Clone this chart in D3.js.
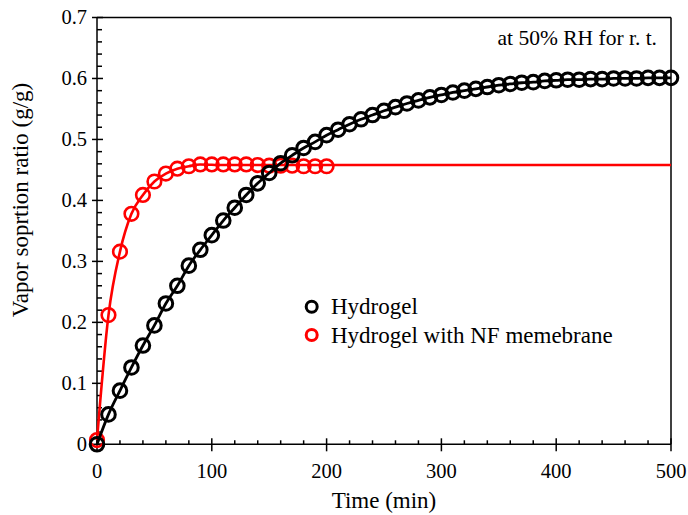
<!DOCTYPE html>
<html><head><meta charset="utf-8">
<script src="https://cdn.jsdelivr.net/npm/d3@7"></script>
<style>body{margin:0;background:#fff}svg{display:block}</style>
</head><body>
<script>
const times = d3.range(0, 501, 10);
const hydrogel = [0,0.049,0.088,0.126,0.162,0.195,0.231,0.260,0.293,0.319,0.343,0.367,0.388,0.409,0.428,0.445,0.461,0.474,0.486,0.496,0.507,0.516,0.525,0.533,0.540,0.547,0.553,0.559,0.564,0.569,0.573,0.577,0.580,0.583,0.586,0.589,0.591,0.593,0.594,0.596,0.597,0.598,0.598,0.599,0.599,0.600,0.600,0.600,0.601,0.601,0.601];
const nfTimes = d3.range(0, 201, 10);
const nfMembrane = [0.007,0.212,0.316,0.378,0.409,0.431,0.444,0.452,0.456,0.459,0.459,0.459,0.459,0.459,0.458,0.457,0.457,0.457,0.456,0.456,0.456];
const nfPlateau = 0.458;
const xTicks = [0,100,200,300,400,500];
const yTicks = [0,0.1,0.2,0.3,0.4,0.5,0.6,0.7];
const legendLabels = ["Hydrogel","Hydrogel with NF memebrane"];
const annotation = "at 50% RH for r. t.";

const FONT = "Liberation Serif";
const W = 688, H = 515;
const svg = d3.select("body").append("svg").attr("width", W).attr("height", H)
  .attr("font-family", FONT);
const x = d3.scaleLinear().domain([0,500]).range([97,671]);
const y = d3.scaleLinear().domain([0,0.7]).range([444.3,17.5]);

// frame
svg.append("line").attr("x1",x(0)).attr("x2",x(500)).attr("y1",y(0.7)).attr("y2",y(0.7)).attr("stroke","#000").attr("stroke-width",1.5);
svg.append("line").attr("x1",x(500)).attr("x2",x(500)).attr("y1",y(0)).attr("y2",y(0.7)).attr("stroke","#000").attr("stroke-width",1.5);

// x axis
const gx = svg.append("g").attr("transform",`translate(0,${y(0)})`);
gx.append("line").attr("x1",x(0)).attr("x2",x(500)).attr("stroke","#000").attr("stroke-width",1.5);
d3.range(0,501,20).forEach(t=>{
  const major = t%100===0;
  gx.append("line").attr("x1",x(t)).attr("x2",x(t)).attr("y1",major?-6:-4).attr("y2",major?7:0).attr("stroke","#000").attr("stroke-width",1.5);
});
gx.selectAll("text.tl").data(xTicks).join("text").attr("class","tl")
  .attr("font-family",FONT).attr("x",d=>x(d)).attr("y",34).attr("text-anchor","middle").attr("font-size",20.5).text(d=>d);

// y axis
const gy = svg.append("g").attr("transform",`translate(${x(0)},0)`);
gy.append("line").attr("y1",y(0)).attr("y2",y(0.7)).attr("stroke","#000").attr("stroke-width",1.5);
d3.range(0,36).forEach(i=>{
  const v = i*0.02, major = i%5===0;
  gy.append("line").attr("y1",y(v)).attr("y2",y(v)).attr("x1",major?-5:0).attr("x2",major?6:5).attr("stroke","#000").attr("stroke-width",1.5);
});
gy.selectAll("text.tl").data(yTicks).join("text").attr("class","tl")
  .attr("font-family",FONT).attr("x",-10).attr("y",d=>y(d)).attr("dy","0.34em").attr("text-anchor","end").attr("font-size",20.5).text(d=>d===0?"0":d.toFixed(1));

// titles
svg.append("text").attr("font-family",FONT).attr("x",384).attr("y",508).attr("text-anchor","middle").attr("font-size",23).text("Time (min)");
svg.append("text").attr("font-family",FONT).attr("transform","translate(28,200) rotate(-90)").attr("text-anchor","middle").attr("font-size",23).text("Vapor soprtion ratio (g/g)");
svg.append("text").attr("font-family",FONT).attr("x",657).attr("y",45).attr("text-anchor","end").attr("font-size",21.5).text(annotation);

const line = d3.line().x(d=>x(d[0])).y(d=>y(d[1])).curve(d3.curveMonotoneX);

// red series
const redPts = nfTimes.map((t,i)=>[t,nfMembrane[i]]);
const redLine = redPts.slice(0,10).concat([[110,nfPlateau],[500,nfPlateau]]);
svg.append("path").attr("d",line(redLine)).attr("fill","none").attr("stroke","#ff0000").attr("stroke-width",2.6);
svg.selectAll("circle.r").data(redPts).join("circle").attr("class","r")
  .attr("cx",d=>x(d[0])).attr("cy",d=>y(d[1])).attr("r",6.8).attr("fill","none").attr("stroke","#ff0000").attr("stroke-width",2.6);

// black series
const blackPts = times.map((t,i)=>[t,hydrogel[i]]);
svg.append("path").attr("d",line(blackPts)).attr("fill","none").attr("stroke","#000").attr("stroke-width",2.8);
svg.selectAll("circle.b").data(blackPts).join("circle").attr("class","b")
  .attr("cx",d=>x(d[0])).attr("cy",d=>y(d[1])).attr("r",6.8).attr("fill","none").attr("stroke","#000").attr("stroke-width",3);

// legend
const colors = ["#000","#ff0000"];
legendLabels.forEach((lab,i)=>{
  const cy = 306.7 + i*28.3;
  svg.append("circle").attr("cx",311.7).attr("cy",cy).attr("r",5.5).attr("fill","none").attr("stroke",colors[i]).attr("stroke-width",3);
  svg.append("text").attr("font-family",FONT).attr("x",331).attr("y",cy).attr("dy","0.33em").attr("font-size",23).text(lab);
});
</script>
</body></html>
